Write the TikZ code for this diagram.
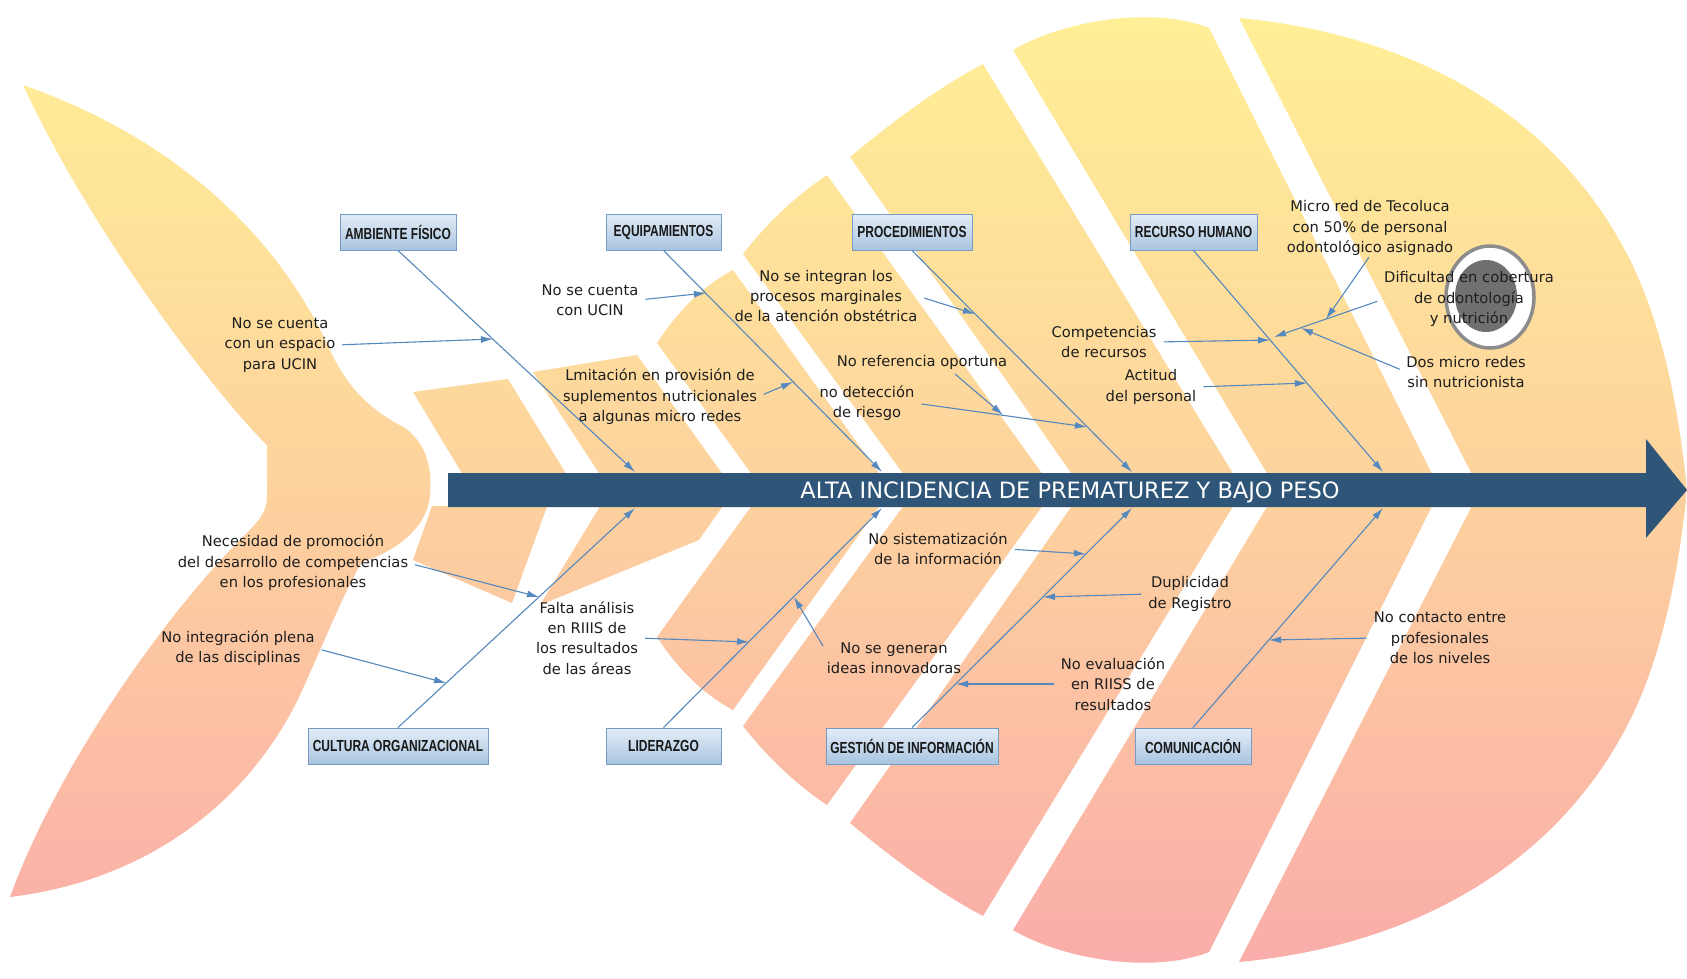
\documentclass[tikz,border=0pt]{standalone}
\usepackage{fontspec}
\usepackage{graphicx}
\setmainfont{DejaVu Sans}
\newfontfamily\boxfont{Liberation Sans}
\usetikzlibrary{arrows.meta,calc}

\definecolor{fishtop}{RGB}{255,240,150}
\definecolor{fishmid}{RGB}{253,210,158}
\definecolor{fishbot}{RGB}{250,172,170}
\definecolor{spine}{RGB}{47,86,121}
\definecolor{bonecol}{RGB}{84,136,190}
\definecolor{cattop}{RGB}{228,237,247}
\definecolor{catbot}{RGB}{168,196,224}
\definecolor{catline}{RGB}{120,155,195}
\definecolor{txt}{RGB}{30,30,30}
\definecolor{eyering}{RGB}{140,140,140}
\definecolor{eyeball}{RGB}{112,112,112}

\newcommand\catlabel[1]{\scalebox{0.75}[1]{#1}}

\tikzset{
  cat/.style={draw=catline, line width=0.9pt, top color=cattop, bottom color=catbot,
    minimum height=36pt, inner sep=0pt, text=black!90,
    font=\boxfont\bfseries\fontsize{16}{18}\selectfont},
  lbl/.style={align=center, inner sep=0pt, text=txt, font=\fontsize{14.7}{20.4}\selectfont},
  bone/.style={draw=bonecol, line width=1.1pt, -{Latex[length=12pt,width=7pt]}},
  cause/.style={bone, shorten <=7pt},
}

\begin{document}
\begin{tikzpicture}[x=1pt,y=-1pt]
\useasboundingbox (0,0) rectangle (1687,978);
\fill[white] (0,0) rectangle (1687,978);

% ---- fish: tail and scale bands, one shared vertical gradient ----
\shade[top color=fishtop, bottom color=fishbot, middle color=fishmid]
  % tail
  (23,85) .. controls (180,140) and (280,240) .. (330,350)
          .. controls (350,395) and (380,415) .. (405,428)
          .. controls (428,445) and (432,470) .. (430,495)
          .. controls (428,525) and (400,550) .. (362,562)
          .. controls (345,590) and (325,640) .. (300,695)
          .. controls (250,800) and (150,880) .. (10,897)
          .. controls (60,760) and (170,610) .. (240,540)
          .. controls (258,522) and (267,512) .. (267,498)
          -- (267,445)
          .. controls (230,410) and (100,250) .. (23,85) -- cycle
  % upper bands
  (413,392) -- (508,379) -- (576,490) -- (472,490) -- cycle
  (533,372) -- (637,355) -- (734,490) -- (610,490) -- cycle
  (657,343) .. controls (680,308) and (705,285) .. (733,270) -- (891,490) -- (763,490) -- cycle
  (743,254) .. controls (768,222) and (797,195) .. (827,175) -- (1054,490) -- (915,490) -- cycle
  (850,157) .. controls (880,132) and (930,92) .. (983,64) -- (1243,490) -- (1083,490) -- cycle
  (1013,50) .. controls (1060,22) and (1150,5) .. (1209,28) -- (1440,490) -- (1277,490) -- cycle
  (1239,18) .. controls (1420,35) and (1560,120) .. (1630,260)
            .. controls (1665,330) and (1680,420) .. (1687,490) -- (1480,490) -- cycle
  % lower bands
  (448,490) -- (553,490) -- (512,603) -- (413,560) -- (432,506) -- (448,506) -- cycle
  (610,490) -- (734,490) -- (699,540) -- (540,605) -- cycle
  (657,637) .. controls (680,672) and (705,695) .. (733,710) -- (891,490) -- (763,490) -- cycle
  (743,726) .. controls (768,758) and (797,785) .. (827,805) -- (1054,490) -- (915,490) -- cycle
  (850,823) .. controls (880,848) and (930,888) .. (983,916) -- (1243,490) -- (1083,490) -- cycle
  (1013,930) .. controls (1060,958) and (1150,975) .. (1209,952) -- (1440,490) -- (1277,490) -- cycle
  (1239,962) .. controls (1420,945) and (1560,860) .. (1630,720)
            .. controls (1665,650) and (1680,560) .. (1687,490) -- (1480,490) -- cycle;

% ---- eye ----
\filldraw[fill=white, draw=eyering, line width=3.5pt] (1490,297) ellipse [x radius=44pt, y radius=51pt];
\fill[eyeball] (1486,296) ellipse [x radius=31pt, y radius=36pt];

% ---- spine ----
\fill[spine] (448,473) -- (1646,473) -- (1646,439) -- (1687,490) -- (1646,538)
             -- (1646,507) -- (448,507) -- cycle;
\node[text=white, inner sep=0pt, anchor=base, font=\fontsize{22.5}{24}\selectfont] (effect)
  at (1070,498) {ALTA INCIDENCIA DE PREMATUREZ Y BAJO PESO};

% ---- category boxes ----
\node[cat, minimum width=116pt] (amb) at (398,232)   {\catlabel{AMBIENTE FÍSICO}};
\node[cat, minimum width=115pt] (equ) at (663.5,232) {\catlabel{EQUIPAMIENTOS}};
\node[cat, minimum width=120pt] (pro) at (912,232)   {\catlabel{PROCEDIMIENTOS}};
\node[cat, minimum width=127pt] (rec) at (1193.5,232){\catlabel{RECURSO HUMANO}};
\node[cat, minimum width=180pt] (cul) at (398,746)   {\catlabel{CULTURA ORGANIZACIONAL}};
\node[cat, minimum width=115pt] (lid) at (663.5,746) {\catlabel{LIDERAZGO}};
\node[cat, minimum width=172pt] (ges) at (912,746)   {\catlabel{GESTIÓN DE INFORMACIÓN}};
\node[cat, minimum width=116pt] (com) at (1193,746)  {\catlabel{COMUNICACIÓN}};

% ---- bone ends on the spine ----
\coordinate (ambtip) at (635,472);
\coordinate (equtip) at (882,472);
\coordinate (protip) at (1132,472);
\coordinate (rectip) at (1383,472);
\coordinate (cultip) at (635,508);
\coordinate (lidtip) at (882,508);
\coordinate (gestip) at (1132,508);
\coordinate (comtip) at (1383,508);

\draw[bone] (amb.south) -- (ambtip);
\draw[bone] (equ.south) -- (equtip);
\draw[bone] (pro.south) -- (protip);
\draw[bone] (rec.south) -- (rectip);
\draw[bone] (cul.north) -- (cultip);
\draw[bone] (lid.north) -- (lidtip);
\draw[bone] (ges.north) -- (gestip);
\draw[bone] (com.north) -- (comtip);

% ---- cause labels ----
\node[lbl] (l1)  at (280,345)  {No se cuenta\\con un espacio\\para UCIN};
\node[lbl] (l2)  at (590,300)  {No se cuenta\\con UCIN};
\node[lbl] (l3)  at (660,397)  {Lmitación en provisión de\\suplementos nutricionales\\a algunas micro redes};
\node[lbl] (l4)  at (826,296)  {No se integran los\\procesos marginales\\de la atención obstétrica};
\node[lbl] (l5)  at (922,362)  {No referencia oportuna};
\node[lbl] (l6)  at (867,403)  {no detección\\de riesgo};
\node[lbl] (l7)  at (1104,342) {Competencias\\de recursos};
\node[lbl] (l8)  at (1151,387) {Actitud\\del personal};
\node[lbl] (l9)  at (1370,228) {Micro red de Tecoluca\\con 50\% de personal\\odontológico asignado};
\node[lbl] (l10) at (1469,299) {Dificultad en cobertura\\de odontología\\y nutrición};
\node[lbl] (l11) at (1466,372) {Dos micro redes\\sin nutricionista};
\node[lbl] (l12) at (293,563)  {Necesidad de promoción\\del desarrollo de competencias\\en los profesionales};
\node[lbl] (l13) at (238,648)  {No integración plena\\de las disciplinas};
\node[lbl] (l14) at (587,638)  {Falta análisis\\en RIIIS de\\los resultados\\de las áreas};
\node[lbl] (l15) at (894,658)  {No se generan\\ideas innovadoras};
\node[lbl] (l16) at (938,549)  {No sistematización\\de la información};
\node[lbl] (l17) at (1190,594) {Duplicidad\\de Registro};
\node[lbl] (l18) at (1113,684) {No evaluación\\en RIISS de\\resultados};
\node[lbl] (l19) at (1440,638) {No contacto entre\\profesionales\\de los niveles};

% ---- arrow ends ----
\coordinate (t1)  at (493,339);
\coordinate (t2)  at (706,293);
\coordinate (t3)  at (793,382);
\coordinate (t4)  at (975,314);
\coordinate (s5)  at (955,374);
\coordinate (t5)  at (1003,415);
\coordinate (t6)  at (1087,427);
\coordinate (t7)  at (1270,340);
\coordinate (t8)  at (1307,383);
\coordinate (t9)  at (1326,319);
\coordinate (t10) at (1274,337);
\coordinate (t11) at (1301,328);
\coordinate (t12) at (539,597);
\coordinate (t13) at (446,683);
\coordinate (t14) at (749,642);
\coordinate (s15) at (823,646);
\coordinate (t15) at (794,597);
\coordinate (t16) at (1086,554);
\coordinate (t17) at (1043,597);
\coordinate (t18) at (956,684);
\coordinate (t19) at (1269,640);

\draw[cause] (l1.east) -- (t1);
\draw[cause] (l2.east) -- (t2);
\draw[cause] (l3.east) -- (t3);
\draw[cause] (l4.east) -- (t4);
\draw[bone]  (s5) -- (t5);
\draw[cause] (l6.east) -- (t6);
\draw[cause] (l7.east) -- (t7);
\draw[cause] (l8.east) -- (t8);
\draw[bone, shorten <=2pt] (l9.south) -- (t9);
\draw[cause] (l10.west) -- (t10);
\draw[cause] (l11.west) -- (t11);
\draw[cause] (l12.east) -- (t12);
\draw[cause] (l13.east) -- (t13);
\draw[cause] (l14.east) -- (t14);
\draw[bone]  (s15) -- (t15);
\draw[cause] (l16.east) -- (t16);
\draw[cause] (l17.west) -- (t17);
\draw[cause] (l18.west) -- (t18);
\draw[cause] (l19.west) -- (t19);
\end{tikzpicture}
\end{document}
